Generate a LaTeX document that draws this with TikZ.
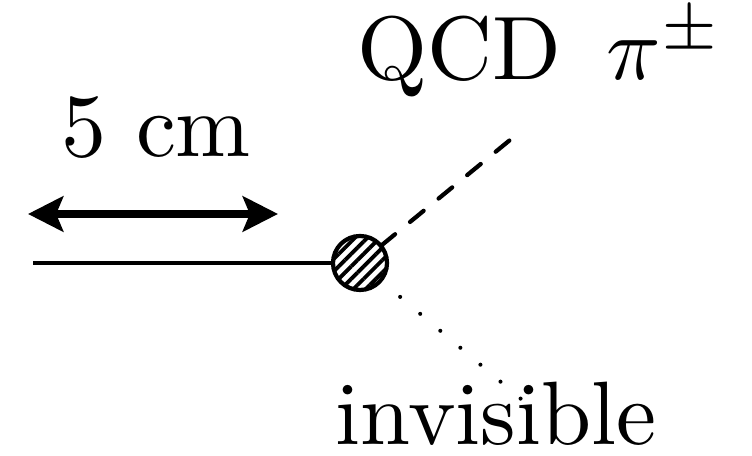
\documentclass[tikz,border=0pt]{standalone}
\usepackage{tikz}
\usetikzlibrary{arrows.meta, patterns.meta}
\newcommand{\bigtxt}[1]{\scalebox{2.56}{#1}}
\tikzset{
  blob/.style={circle, draw, line width=1.2pt, minimum size=0.54cm, inner sep=0pt,
    preaction={fill=white}, pattern={Lines[angle=45, distance=2.5pt, line width=1.1pt]}},
  prop/.style={line width=1pt},
  scalar/.style={line width=1.2pt, line cap=round, dash pattern=on 5pt off 5.5pt, dash phase=2.6pt},
  ghost/.style={line width=1.15pt, line cap=round, dash pattern=on 0pt off 7.47pt},
  dim/.style={line width=2pt, {Stealth[length=10pt, width=10pt, inset=2pt]}-{Stealth[length=10pt, width=10pt, inset=2pt]}},
  lbl/.style={anchor=base, inner sep=0pt, font=\normalsize}
}
\begin{document}
\begin{tikzpicture}[x=0.01cm, y=-0.01cm]
  \useasboundingbox (0,0) rectangle (752,456);

  \coordinate (v) at (360,263);
  \coordinate (beam) at (33,263);
  \coordinate (qcd) at (510,140);
  \coordinate (inv) at (521,399);
  \coordinate (arrL) at (28,214);
  \coordinate (arrR) at (278,214);

  % lines into and out of the vertex
  \draw[prop] (beam) -- (v);
  \draw[scalar] (v) -- (qcd);
  \draw[ghost] (v) -- (inv);
  \node[blob] (vtx) at (v) {};

  % length marker
  \draw[dim] (arrL) -- (arrR);
  \node[lbl] (lenlbl) at (156,157) {\bigtxt{5 cm}};

  % labels
  \node[lbl] (qcdlbl) at (540,80) {\bigtxt{QCD\enskip$\pi^{\pm}$}};
  \node[lbl] (invlbl) at (496,445) {\bigtxt{invisible}};
\end{tikzpicture}
\end{document}
